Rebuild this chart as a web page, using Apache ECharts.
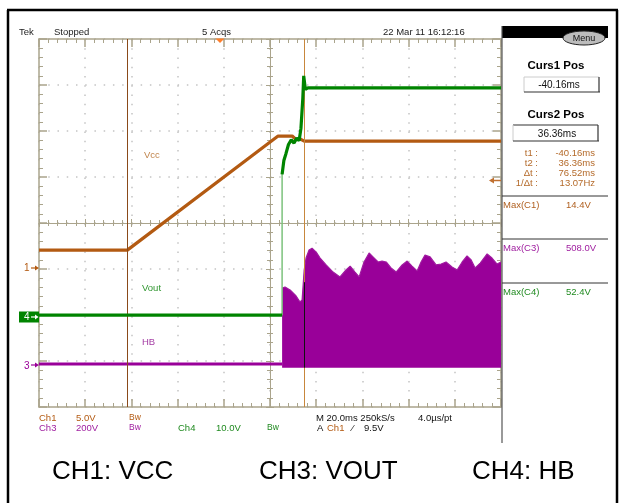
<!DOCTYPE html>
<html><head><meta charset="utf-8">
<script src="https://cdn.jsdelivr.net/npm/echarts@6/dist/echarts.min.js"></script>
<style>html,body{margin:0;padding:0;background:#fff}#c{width:624px;height:503px}</style>
</head><body><div id="c"></div>
<script>
// ---- data (time in ms, values in volts) ----
const timeMin = -78.4, timeMax = 121.6;          // 10 div x 20 ms
const cursorTimes = [-40.16, 36.36];
const vccTime  = [-78.4, -40.16, 25.1, 31.2, 33.0, 34.6, 36.4, 121.6];
const vccVolts = [2.0, 2.0, 14.4, 14.4, 14.0, 14.1, 13.85, 13.85];
const voutPreTime  = [-78.4, 26.84];
const voutPreVolts = [0.4, 0.4];
const voutEdgeTime  = [26.84, 26.84];
const voutEdgeVolts = [0.4, 32];
const voutPostTime  = [26.84, 27.6, 28.5, 29.6, 30.8, 32.0, 33.2, 34.2, 35.0, 35.8, 36.2, 36.9, 38.0, 121.6];
const voutPostVolts = [31, 34, 35.5, 37.5, 38.5, 37.8, 38.9, 38.3, 41.0, 47.5, 52.4, 49.5, 49.8, 49.8];
const hbBaseTime  = [-78.4, 26.84];
const hbBaseVolts = [4, 4];
const hbEnvTime = [26.84, 28.1, 30.3, 32.9, 34.6, 35.5, 36.4, 37.2, 38.5, 39.8, 41.6, 43.3, 45.9, 48.9, 51.9, 54.5, 56.3, 58.4, 60.2, 62.3, 64.5, 66.2, 68.4, 70.1, 71.9, 74.0, 76.2, 78.8, 81.0, 83.1, 85.3, 87.0, 88.7, 90.9, 93.5, 95.7, 97.8, 100.4, 102.6, 104.8, 106.9, 108.7, 110.4, 112.6, 115.6, 117.7, 119.9, 121.6];
const hbEnvVolts = [335, 339, 326, 300, 274, 283, 413, 465, 500, 508, 491, 465, 435, 404, 383, 413, 430, 404, 383, 448, 487, 470, 448, 452, 448, 422, 404, 435, 452, 430, 409, 448, 478, 470, 435, 439, 448, 426, 413, 448, 474, 457, 422, 443, 483, 465, 439, 448];
const hbFloor = -12;
// channel vertical ranges (volts at bottom/top of screen)
const ch1Range = [-15.05, 24.95];   // 5 V/div
const ch4Range = [-19.57, 60.43];   // 10 V/div
const ch3Range = [-182.6, 1417.4];  // 200 V/div
const readLabels = ['t1 :', 't2 :', '\u0394t :', '1/\u0394t :'];
const readValues = ['-40.16ms', '36.36ms', '76.52ms', '13.07Hz'];

const pair = (a, b) => a.map((t, i) => [t, b[i]]);

const KH = '#aaa48c', DOT = '#c4c4c4';
const BR = '#b35a12', GR = '#008400', PU = '#990099';
const F = '"Liberation Sans", Arial, sans-serif';

function gridAxis(pos, extra) {
  return Object.assign({
    type: 'value', position: pos, axisLabel: {show: false},
    axisLine: {show: true, onZero: false, lineStyle: {color: KH, width: 1.5}},
    axisTick: {show: true, inside: true, length: 8, lineStyle: {color: KH, width: 1.5}},
    minorTick: {show: true, splitNumber: 5, length: 4, lineStyle: {color: KH, width: 1}},
    splitLine: {show: false}
  }, extra);
}
const dotted = {show: true, lineStyle: {color: DOT, width: 1.5, type: [1.5, 7.74]}};
const xr = {min: -5, max: 5, interval: 1};
const yr = {min: -4, max: 4, interval: 1};
const centerTick = {show: true, inside: true, length: 4, lineStyle: {color: KH, width: 1}};
const centerMinor = {show: true, splitNumber: 5, length: 3, lineStyle: {color: KH, width: 1}};

function T(x, y, text, fill, size, align, weight, z) {
  return {type: 'text', x: x, y: y, z: z || 50, style: {text: text, fill: fill || '#222',
    font: (weight || 'normal') + ' ' + (size || 9.5) + 'px ' + F,
    textAlign: align || 'left', textVerticalAlign: 'middle'}};
}
function L(x1, y1, x2, y2, c, w) {
  return {type: 'line', z: 50, shape: {x1: x1, y1: y1, x2: x2, y2: y2}, style: {stroke: c, lineWidth: w || 1}};
}

const g = [];
// outer frame
g.push(L(8, 10, 8, 503, '#000', 2.5), L(7, 10, 618, 10, '#000', 2.5), L(617, 10, 617, 503, '#000', 2.5));
// top status line
g.push(T(19, 32, 'Tek'), T(54, 32, 'Stopped'), T(202, 32, '5 Acqs'), T(383, 32, '22 Mar 11 16:12:16'));
// trigger position marker
g.push({type: 'polygon', z: 50, shape: {points: [[215.5, 38.5], [224.5, 38.5], [220, 43]]}, style: {fill: '#ff7f2a'}});
// right panel
g.push(L(502, 26, 502, 443, '#555', 1.2));
g.push({type: 'rect', z: 49, shape: {x: 502, y: 26, width: 106, height: 12}, style: {fill: '#000'}});
g.push({type: 'ellipse', z: 51, shape: {cx: 584, cy: 38, rx: 21, ry: 7}, style: {fill: '#bcbcbc', stroke: '#222', lineWidth: 1}});
g.push(T(584, 38.5, 'Menu', '#111', 9, 'center', 'normal', 60));
g.push(T(556, 66, 'Curs1 Pos', '#000', 11.5, 'center', 'bold'));
g.push(L(524, 77, 599, 77, '#ccc', 1), L(524, 77, 524, 92, '#ccc', 1), L(524, 92, 600, 92, '#333', 1.2), L(599, 77, 599, 92, '#333', 1.2));
g.push(T(559, 85, readValues[0], '#111', 10, 'center'));
g.push(T(556, 115, 'Curs2 Pos', '#000', 11.5, 'center', 'bold'));
g.push(L(513, 125, 598, 125, '#333', 1.2), L(513, 125, 513, 141, '#ccc', 1), L(513, 141, 599, 141, '#333', 1.2), L(598, 125, 598, 141, '#333', 1.2));
g.push(T(557, 134, readValues[1], '#111', 10, 'center'));
readLabels.forEach((s, i) => {
  g.push(T(538, 153 + i * 10, s, '#b46a2a', 9.5, 'right'));
  g.push(T(595, 153 + i * 10, readValues[i], '#b46a2a', 9.5, 'right'));
});
g.push(L(502, 196, 608, 196, '#333', 1), L(502, 239, 608, 239, '#333', 1), L(502, 283, 608, 283, '#333', 1));
g.push(T(503, 205, 'Max(C1)', '#b06020'), T(566, 205, '14.4V', '#b06020'));
g.push(T(503, 248, 'Max(C3)', '#a020a0'), T(566, 248, '508.0V', '#a020a0'));
g.push(T(503, 292, 'Max(C4)', '#208a20'), T(566, 292, '52.4V', '#208a20'));
// trigger level marker (right)
g.push(L(491, 180.5, 501, 180.5, '#c07030', 1.5));
g.push({type: 'polygon', z: 50, shape: {points: [[489, 180.5], [494, 177.5], [494, 183.5]]}, style: {fill: '#c07030'}});
// channel ground markers (left)
g.push(T(24, 268, '1', BR, 10), L(31, 268, 37, 268, BR, 1.2),
  {type: 'polygon', z: 50, shape: {points: [[39, 268], [35, 265.5], [35, 270.5]]}, style: {fill: BR}});
g.push({type: 'rect', z: 49, shape: {x: 19, y: 311.5, width: 20, height: 11}, style: {fill: GR}});
g.push(T(24, 317.5, '4', '#fff', 10), L(31, 317, 36, 317, '#fff', 1.2),
  {type: 'polygon', z: 50, shape: {points: [[38.5, 317], [35, 314.5], [35, 319.5]]}, style: {fill: '#fff'}});
g.push(T(24, 366, '3', PU, 10), L(31, 365, 37, 365, PU, 1.2),
  {type: 'polygon', z: 50, shape: {points: [[39, 365], [35, 362.5], [35, 367.5]]}, style: {fill: PU}});
// trace labels
g.push(T(144, 155, 'Vcc', '#c0844c'), T(142, 288, 'Vout', '#2f962f'), T(142, 342, 'HB', '#a43ca4'));
// bottom settings
g.push(T(39, 418, 'Ch1', BR), T(76, 418, '5.0V', BR), T(129, 418, 'Bw', BR, 8.5),
  T(316, 418, 'M 20.0ms 250kS/s', '#111'), T(418, 418, '4.0\u00b5s/pt', '#111'));
g.push(T(39, 428, 'Ch3', '#a020a0'), T(76, 428, '200V', '#a020a0'), T(129, 428, 'Bw', '#a020a0', 8.5),
  T(178, 428, 'Ch4', '#208a20'), T(216, 428, '10.0V', '#208a20'), T(267, 428, 'Bw', '#208a20', 8.5),
  T(317, 428, 'A', '#111'), T(327, 428, 'Ch1', BR), T(352, 428, '\u2044', '#111'), T(364, 428, '9.5V', '#111'));
// captions
g.push(T(52, 472, 'CH1: VCC', '#000', 26), T(259, 472, 'CH3: VOUT', '#000', 26), T(472, 472, 'CH4: HB', '#000', 26));

const option = {
  animation: false,
  backgroundColor: '#fff',
  grid: [{left: 39, top: 39, width: 462, height: 368, show: false}],
  xAxis: [
    gridAxis('bottom', Object.assign({splitLine: dotted}, xr)),
    gridAxis('top', xr),
    gridAxis('bottom', Object.assign({axisLine: {show: true, onZero: true, onZeroAxisIndex: 0, lineStyle: {color: KH, width: 1}}, axisTick: centerTick, minorTick: centerMinor}, xr)),
    gridAxis('top', Object.assign({axisLine: {show: true, onZero: true, onZeroAxisIndex: 0, lineStyle: {color: KH, width: 1}}, axisTick: centerTick, minorTick: centerMinor}, xr)),
    {type: 'value', min: timeMin, max: timeMax, show: false}
  ],
  yAxis: [
    gridAxis('left', Object.assign({splitLine: dotted}, yr)),
    gridAxis('right', yr),
    gridAxis('left', Object.assign({axisLine: {show: true, onZero: true, onZeroAxisIndex: 0, lineStyle: {color: KH, width: 1}}, axisTick: centerTick, minorTick: centerMinor}, yr)),
    gridAxis('right', Object.assign({axisLine: {show: true, onZero: true, onZeroAxisIndex: 0, lineStyle: {color: KH, width: 1}}, axisTick: centerTick, minorTick: centerMinor}, yr)),
    {type: 'value', min: ch1Range[0], max: ch1Range[1], show: false},
    {type: 'value', min: ch4Range[0], max: ch4Range[1], show: false},
    {type: 'value', min: ch3Range[0], max: ch3Range[1], show: false}
  ],
  series: [
    {type: 'line', xAxisIndex: 4, yAxisIndex: 4, z: 1, data: [], showSymbol: false, silent: true,
     markLine: {silent: true, symbol: ['none', 'none'], label: {show: false},
       data: [{xAxis: cursorTimes[0], lineStyle: {color: '#8a4a1a', width: 1, type: 'solid'}},
              {xAxis: cursorTimes[1], lineStyle: {color: '#c8873c', width: 1, type: 'solid'}}]}},
    {name: 'HB', type: 'line', xAxisIndex: 4, yAxisIndex: 6, z: 3, showSymbol: false, silent: true,
     data: pair(hbBaseTime, hbBaseVolts), lineStyle: {color: PU, width: 3}},
    {name: 'HB env', type: 'line', xAxisIndex: 4, yAxisIndex: 6, z: 3, showSymbol: false, silent: true,
     data: pair(hbEnvTime, hbEnvVolts), lineStyle: {color: '#a01aa0', width: 1.2},
     areaStyle: {color: PU, opacity: 1, origin: hbFloor},
     markLine: {silent: true, symbol: ['none', 'none'], label: {show: false},
       data: [[{coord: [cursorTimes[1], hbFloor]}, {coord: [cursorTimes[1], 360]}]],
       lineStyle: {color: '#111', width: 1, type: 'solid'}}},
    {name: 'Vcc', type: 'line', xAxisIndex: 4, yAxisIndex: 4, z: 4, showSymbol: false, silent: true,
     data: pair(vccTime, vccVolts), lineStyle: {color: BR, width: 3.2}},
    {name: 'Vout edge', type: 'line', xAxisIndex: 4, yAxisIndex: 5, z: 4, showSymbol: false, silent: true,
     data: pair(voutEdgeTime, voutEdgeVolts), lineStyle: {color: '#7cc27c', width: 1.5}},
    {name: 'Vout', type: 'line', xAxisIndex: 4, yAxisIndex: 5, z: 5, showSymbol: false, silent: true,
     data: pair(voutPreTime, voutPreVolts), lineStyle: {color: GR, width: 3.2}},
    {name: 'Vout2', type: 'line', xAxisIndex: 4, yAxisIndex: 5, z: 5, showSymbol: false, silent: true,
     data: pair(voutPostTime, voutPostVolts), lineStyle: {color: GR, width: 3.2}}
  ],
  graphic: g
};
const chart = echarts.init(document.getElementById('c'), null, {renderer: 'canvas'});
chart.setOption(option);
</script></body></html>
